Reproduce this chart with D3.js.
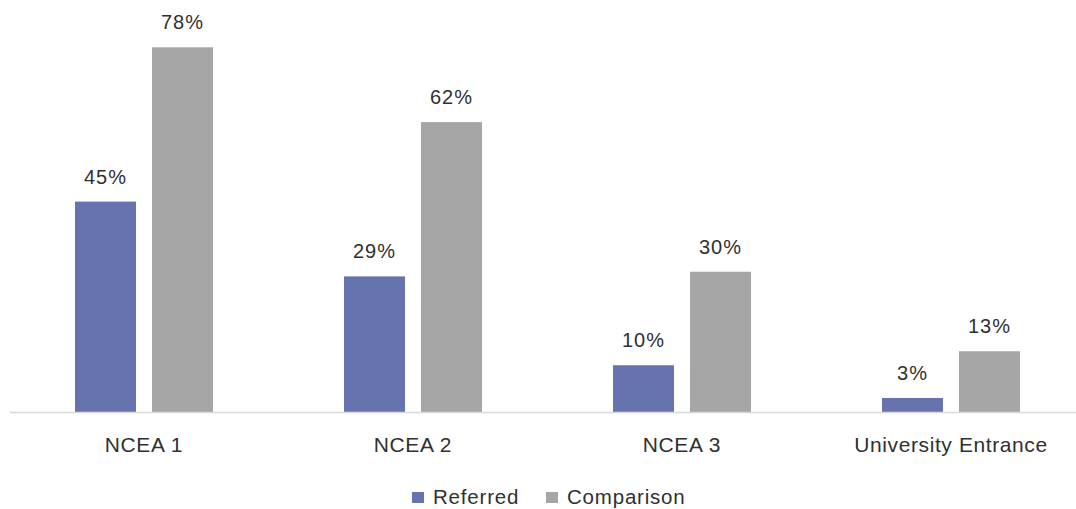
<!DOCTYPE html>
<html>
<head>
<meta charset="utf-8">
<script src="https://cdn.jsdelivr.net/npm/d3@7"></script>
<style>
  html, body { margin: 0; padding: 0; background: #fff; }
  svg { display: block; font-family: "Liberation Sans", Arial, sans-serif; }
</style>
</head>
<body>
<svg id="chart" width="1076" height="509"></svg>
<script>
// Share of students attaining each qualification
const categories = ["NCEA 1", "NCEA 2", "NCEA 3", "University Entrance"];
const seriesNames = ["Referred", "Comparison"];
const referred = [0.45, 0.29, 0.10, 0.03];
const comparison = [0.78, 0.62, 0.30, 0.13];
const colors = ["#6673af", "#a6a6a6"];
const textColor = "#303030";

const svg = d3.select("#chart");
const W = 1076;
const baseY = 412;

const x = d3.scaleBand().domain(categories).range([9.5, 1085.5]).padding(0);
const barW = 61, gap = 16;
const xs = d3.scaleBand().domain(seriesNames)
  .range([0, 2 * barW + gap]).paddingInner(gap / (barW + gap)).paddingOuter(0);
const y = d3.scaleLinear().domain([0, 0.78]).range([baseY, 47.3]);

const table = categories.map((c, i) => ({ cat: c, values: [referred[i], comparison[i]] }));

const groups = svg.append("g").selectAll("g").data(table).join("g")
  .attr("transform", d => `translate(${x(d.cat) + x.bandwidth() / 2 - (2 * barW + gap) / 2},0)`);

groups.selectAll("rect").data(d => d.values.map((v, k) => ({ v, s: seriesNames[k], k })))
  .join("rect")
  .attr("x", d => xs(d.s))
  .attr("width", xs.bandwidth())
  .attr("y", d => y(d.v))
  .attr("height", d => baseY - y(d.v))
  .attr("fill", d => colors[d.k]);

groups.selectAll("text.val").data(d => d.values.map((v, k) => ({ v, s: seriesNames[k] })))
  .join("text")
  .attr("class", "val")
  .attr("x", d => xs(d.s) + xs.bandwidth() / 2)
  .attr("y", d => y(d.v) - 18)
  .attr("text-anchor", "middle")
  .attr("font-size", 20)
  .attr("letter-spacing", 1)
  .attr("fill", textColor)
  .text(d => d3.format(".0%")(d.v));

// baseline
svg.append("line")
  .attr("x1", 10).attr("x2", W)
  .attr("y1", baseY + 0.5).attr("y2", baseY + 0.5)
  .attr("stroke", "#d9d9d9").attr("stroke-width", 1.5);

// category axis
const axis = svg.append("g").attr("transform", `translate(0,${baseY})`)
  .call(d3.axisBottom(x).tickSize(0).tickPadding(0));
axis.select(".domain").remove();
axis.selectAll("text")
  .attr("y", 40)
  .attr("dy", 0)
  .attr("font-size", 21)
  .attr("letter-spacing", 0.6)
  .attr("font-family", "Liberation Sans, Arial, sans-serif")
  .attr("fill", textColor);

// legend
const legendPos = [412, 546];
const legend = svg.append("g").selectAll("g").data(seriesNames).join("g")
  .attr("transform", (d, i) => `translate(${legendPos[i]},492)`);
legend.append("rect").attr("width", 12).attr("height", 11)
  .attr("fill", (d, i) => colors[i]);
legend.append("text")
  .attr("x", 21).attr("y", 11.5)
  .attr("font-size", 20.5)
  .attr("letter-spacing", 0.8)
  .attr("fill", textColor)
  .text(d => d);
</script>
</body>
</html>
